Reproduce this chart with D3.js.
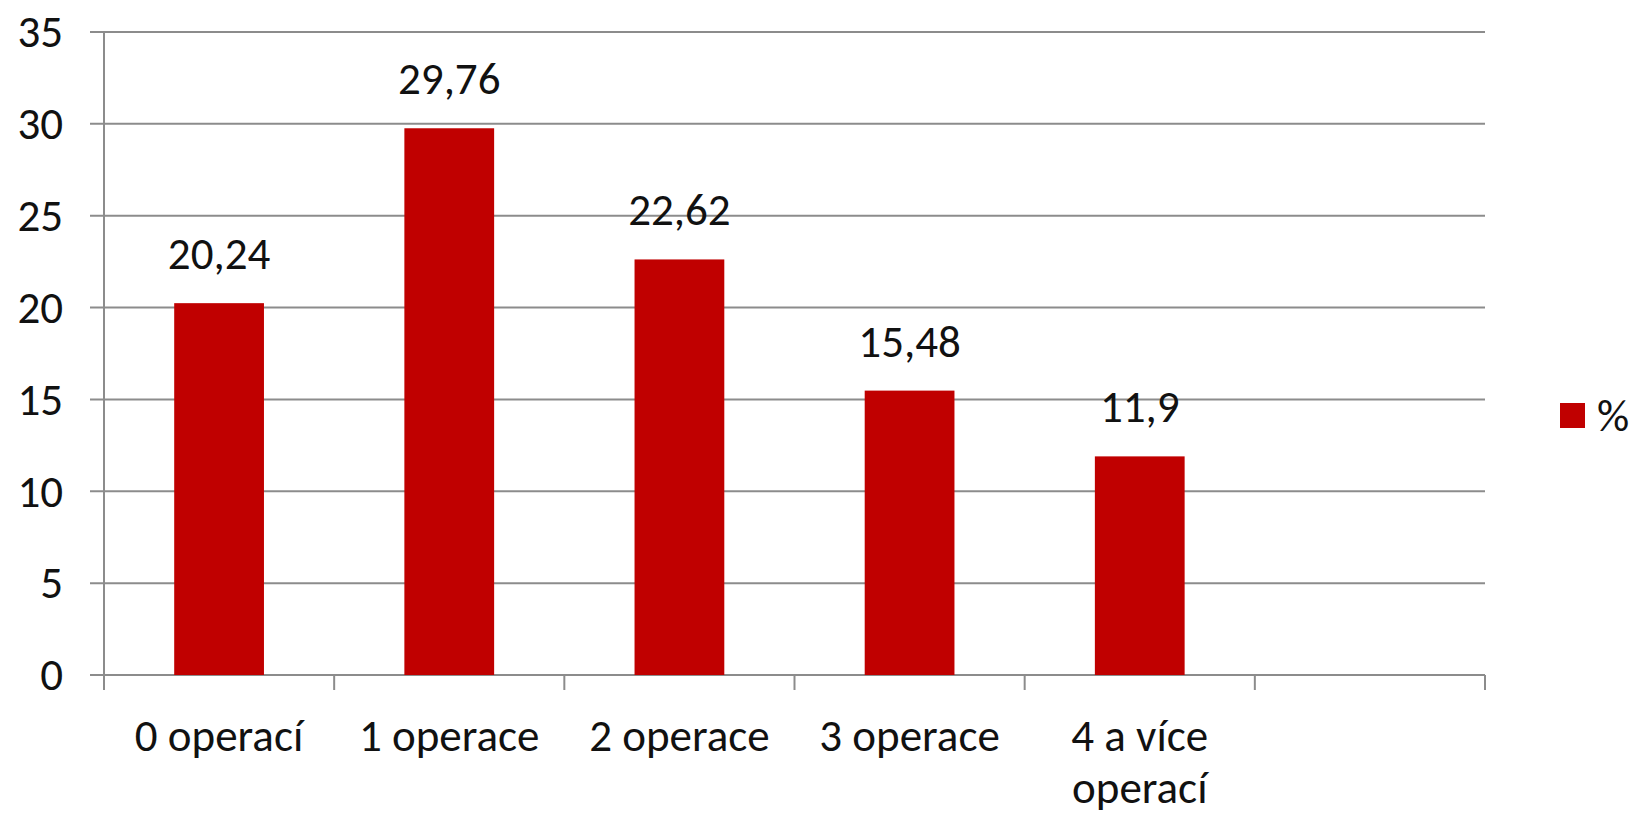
<!DOCTYPE html>
<html>
<head>
<meta charset="utf-8">
<script src="https://cdn.jsdelivr.net/npm/d3@7"></script>
<style>
  body { margin: 0; background: #fff; }
  text { font-family: Carlito, Calibri, "Open Sans", sans-serif; fill: #111; }
</style>
</head>
<body>
<div id="chart"></div>
<script>
// data
const categories = ["0 operací", "1 operace", "2 operace", "3 operace", "4 a více operací", ""];
const values = [20.24, 29.76, 22.62, 15.48, 11.9, null];
const yTicks = [0, 5, 10, 15, 20, 25, 30, 35];
const seriesName = "%";

const W = 1635, H = 817;
const margin = {top: 32, right: 150, bottom: 142, left: 104};
const width = W - margin.left - margin.right;
const height = H - margin.top - margin.bottom;
const fs = "45px";

const svg = d3.select("#chart").append("svg")
    .attr("width", W)
    .attr("height", H);

const g = svg.append("g")
    .attr("transform", "translate(" + margin.left + "," + margin.top + ")");

const x = d3.scaleBand().domain(categories).range([0, width]).padding(0);
const y = d3.scaleLinear().domain([0, 35]).range([height, 0]);

const fmt = d3.formatLocale({decimal: ",", thousands: " ", grouping: [3], currency: ["", ""]}).format("~g");
const grey = "#8c8c8c";

// gridlines + y tick marks
g.selectAll(".grid").data(yTicks).join("line")
    .attr("class", "grid")
    .attr("x1", -14).attr("x2", width)
    .attr("y1", d => y(d)).attr("y2", d => y(d))
    .attr("stroke", grey).attr("stroke-width", 2);

// y axis labels
g.selectAll(".ylab").data(yTicks).join("text")
    .attr("class", "ylab")
    .attr("x", -41)
    .attr("y", d => y(d))
    .attr("dy", "0.34em")
    .attr("text-anchor", "end")
    .style("font-size", fs)
    .text(d => d);

// y axis line
g.append("line")
    .attr("x1", 0).attr("x2", 0)
    .attr("y1", 0).attr("y2", height + 15)
    .attr("stroke", grey).attr("stroke-width", 2);

// x tick marks at band edges
const edges = categories.map(c => x(c)).concat([width]);
g.selectAll(".xtick").data(edges).join("line")
    .attr("class", "xtick")
    .attr("x1", d => d).attr("x2", d => d)
    .attr("y1", height).attr("y2", height + 15)
    .attr("stroke", grey).attr("stroke-width", 2);

// bars
const bw = x.bandwidth() * 0.39;
const data = categories.map((c, i) => ({c: c, v: values[i]})).filter(d => d.v != null);

g.selectAll(".bar").data(data).join("rect")
    .attr("class", "bar")
    .attr("x", d => x(d.c) + x.bandwidth() / 2 - bw / 2)
    .attr("y", d => y(d.v))
    .attr("width", bw)
    .attr("height", d => height - y(d.v))
    .attr("fill", "#c00000");

// value labels
g.selectAll(".vlab").data(data).join("text")
    .attr("class", "vlab")
    .attr("x", d => x(d.c) + x.bandwidth() / 2)
    .attr("y", d => y(d.v) - 34)
    .attr("text-anchor", "middle")
    .style("font-size", fs)
    .text(d => fmt(d.v));

// category labels, wrapped to band width
const xl = g.selectAll(".xlab").data(categories).join("text")
    .attr("class", "xlab")
    .attr("x", d => x(d) + x.bandwidth() / 2)
    .attr("y", height + 76)
    .attr("text-anchor", "middle")
    .style("font-size", fs);

xl.each(function(d) {
  const t = d3.select(this);
  const words = d.split(" ");
  let line = [];
  let ts = t.append("tspan").attr("x", x(d) + x.bandwidth() / 2);
  words.forEach(w => {
    line.push(w);
    ts.text(line.join(" "));
    if (ts.node().getComputedTextLength() > x.bandwidth() - 20 && line.length > 1) {
      line.pop();
      ts.text(line.join(" "));
      line = [w];
      ts = t.append("tspan")
          .attr("x", x(d) + x.bandwidth() / 2)
          .attr("dy", "1.16em")
          .text(w);
    }
  });
});

// legend
const lg = svg.append("g").attr("transform", "translate(1560,403)");
lg.append("rect").attr("width", 25).attr("height", 25).attr("fill", "#c00000");
lg.append("text")
    .attr("x", 37).attr("y", 12.5).attr("dy", "0.34em")
    .style("font-size", fs)
    .text(seriesName);
</script>
</body>
</html>
